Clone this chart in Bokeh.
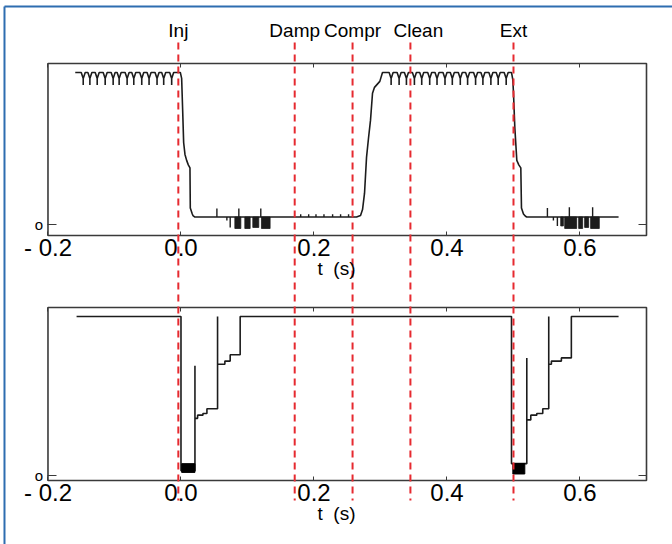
from bokeh.plotting import figure
from bokeh.models import Range1d, LinearAxis, FixedTicker, ColumnDataSource
from bokeh.embed import file_html
from bokeh.resources import INLINE
from bokeh.core.properties import value

# ---------------- data ----------------
event_names = ["Inj", "Damp", "Compr", "Clean", "Ext"]
event_times = [-0.004, 0.171, 0.258, 0.345, 0.500]

x_ticks = [-0.2, 0.0, 0.2, 0.4, 0.6]
x_tick_labels = ["- 0.2", "0.0", "0.2", "0.4", "0.6"]
y_ticks = [0.0]
y_tick_labels = ["o"]
x_axis_title = "t\u00a0\u00a0(s)"

# panel extents (data units)
t_box = [-0.2, 0.7]
top_box = [-0.074, 1.08]
bot_box = [-0.031, 1.057]

# top panel: ripple plateaus (dip times of the ripple)
ripple1_span = [-0.159, -0.001]
ripple1_dips = [-0.147, -0.137, -0.126, -0.114, -0.102, -0.093, -0.081,
                -0.071, -0.059, -0.048, -0.036, -0.026, -0.014]
ripple2_span = [0.303, 0.497]
ripple2_dips = [0.316, 0.328, 0.339, 0.351, 0.362, 0.374, 0.385, 0.397,
                0.408, 0.420, 0.431, 0.443, 0.454, 0.466, 0.477, 0.489]
ripple_hi, ripple_mid, ripple_lo = 1.02, 0.98, 0.935

# top panel: transitions and low level
drop1_t = [0.0, 0.001, 0.0025, 0.004, 0.006, 0.0085, 0.011, 0.0135, 0.014, 0.017, 0.018, 0.021]
drop1_v = [1.0, 0.98, 0.77, 0.55, 0.47, 0.43, 0.40, 0.38, 0.11, 0.07, 0.06, 0.05]
rise_t = [0.264, 0.270, 0.273, 0.276, 0.279, 0.282, 0.285, 0.288, 0.291, 0.295, 0.299, 0.303]
rise_v = [0.05, 0.06, 0.10, 0.21, 0.45, 0.58, 0.70, 0.88, 0.92, 0.94, 0.96, 1.02]
drop2_t = [0.497, 0.499, 0.500, 0.502, 0.505, 0.508, 0.511, 0.512, 0.515, 0.518, 0.520, 0.658]
drop2_v = [1.02, 0.97, 0.88, 0.65, 0.43, 0.40, 0.38, 0.11, 0.07, 0.055, 0.05, 0.05]
low_level = 0.05

spike_t = [0.054, 0.087, 0.120, 0.069, 0.074, 0.180, 0.192, 0.203, 0.215,
           0.228, 0.240, 0.252, 0.551, 0.584, 0.619, 0.560, 0.566]
spike_v = [0.107, 0.107, 0.107, 0.027, -0.02, 0.068, 0.068, 0.068, 0.068,
           0.068, 0.068, 0.068, 0.11, 0.115, 0.115, 0.027, -0.01]

noise_left = [0.081, 0.096, 0.108, 0.121, 0.571, 0.577, 0.598, 0.607, 0.616]
noise_right = [0.090, 0.104, 0.117, 0.134, 0.575, 0.595, 0.604, 0.613, 0.629]
noise_bottom = [-0.027, -0.027, -0.020, -0.027, -0.010, -0.027, -0.027, -0.020, -0.027]

# bottom panel step trace
bot_t = [-0.157, 0.0, 0.0, 0.021, 0.021, 0.021, 0.025, 0.025, 0.033, 0.033,
         0.039, 0.039, 0.055, 0.055, 0.055, 0.066, 0.066, 0.074, 0.074, 0.089,
         0.089, 0.497, 0.497, 0.520, 0.520, 0.520, 0.526, 0.526, 0.535, 0.535,
         0.544, 0.544, 0.553, 0.553, 0.553, 0.557, 0.557, 0.572, 0.572, 0.587,
         0.587, 0.658]
bot_v = [1.0, 1.0, 0.03, 0.03, 0.69, 0.36, 0.36, 0.38, 0.38, 0.39,
         0.39, 0.42, 0.42, 1.0, 0.70, 0.70, 0.72, 0.72, 0.76, 0.76,
         1.0, 1.0, 0.075, 0.075, 0.74, 0.35, 0.35, 0.38, 0.38, 0.39,
         0.39, 0.42, 0.42, 1.0, 0.70, 0.70, 0.72, 0.72, 0.74, 0.74,
         1.0, 1.0]
box_left = [0.001, 0.499]
box_right = [0.021, 0.517]
box_bottom = [0.02, 0.01]
box_top = [0.075, 0.075]

# ---------------- styling / layout constants ----------------
FONT = "Liberation Sans"
TRACE = "#1c1c1c"
FRAME = "#3a3a3a"
RED = "#e62a30"
BLUE = "#2e6db0"
X_VIEW = (-0.2714, 0.7391)          # whole canvas width
TOP_VIEW = (-2.1471, 1.5027)        # whole canvas height in top-panel units
BOT_VIEW = (-0.4335, 2.9878)        # whole canvas height in bottom-panel units
LABEL_Y = 1.300                     # event-name baseline (top units)
DASH_Y = (1.2209, -1.852)           # dashed marker extent (top units)
BORDER_X = -0.2654
BORDER_Y = 1.4624


def ripple(span, dips, w=0.003):
    xs, ys = [span[0]], [ripple_hi]
    for d in dips:
        xs += [d - w, d, d, d, d + w]
        ys += [ripple_hi, ripple_mid, ripple_lo, ripple_mid, ripple_hi]
    xs.append(span[1])
    ys.append(ripple_hi)
    return xs, ys


p = figure(width=672, height=544, output_backend="svg", toolbar_location=None,
           x_range=Range1d(*X_VIEW), y_range=Range1d(*TOP_VIEW),
           x_axis_location=None, y_axis_location=None,
           min_border=0, min_border_left=0, min_border_right=0,
           min_border_top=0, min_border_bottom=0)
p.extra_y_ranges = {"bot": Range1d(*BOT_VIEW)}
p.grid.visible = False
p.outline_line_color = None
p.background_fill_color = "white"
p.border_fill_color = "white"


def add_axes(rng, box):
    kw = dict(y_range_name=rng) if rng != "default" else {}
    below = LinearAxis(fixed_location=box[0], ticker=FixedTicker(ticks=x_ticks),
                       major_label_overrides=dict(zip(x_ticks, x_tick_labels)),
                       major_label_text_font=FONT, major_label_text_font_size="24px",
                       major_label_text_color="black", major_label_standoff=-2,
                       major_tick_in=4, major_tick_out=0, major_tick_line_color=FRAME,
                       minor_tick_line_color=None, axis_line_color=None,
                       axis_label=x_axis_title, axis_label_text_font=FONT,
                       axis_label_text_font_size="19px",
                       axis_label_text_font_style="normal",
                       axis_label_text_color="black", axis_label_standoff=-6, **kw)
    p.add_layout(below, "below")
    above = LinearAxis(fixed_location=box[1], ticker=FixedTicker(ticks=x_ticks),
                       major_label_overrides={t: "" for t in x_ticks},
                       major_tick_in=4, major_tick_out=0, major_tick_line_color=FRAME,
                       minor_tick_line_color=None, axis_line_color=None, **kw)
    p.add_layout(above, "above")
    left = LinearAxis(fixed_location=t_box[0], ticker=FixedTicker(ticks=y_ticks),
                      major_label_overrides=dict(zip(y_ticks, y_tick_labels)),
                      major_label_text_font=FONT, major_label_text_font_size="15px",
                      major_label_text_color="black", major_label_standoff=5,
                      major_tick_in=9, major_tick_out=0, major_tick_line_color=FRAME,
                      minor_tick_line_color=None, axis_line_color=None, **kw)
    p.add_layout(left, "left")
    right = LinearAxis(fixed_location=t_box[1], ticker=FixedTicker(ticks=y_ticks),
                       major_label_overrides={t: "" for t in y_ticks},
                       major_tick_in=8, major_tick_out=0, major_tick_line_color=FRAME,
                       minor_tick_line_color=None, axis_line_color=None, **kw)
    p.add_layout(right, "right")
    p.quad(left=[t_box[0]], right=[t_box[1]], bottom=[box[0]], top=[box[1]],
           fill_color=None, line_color=FRAME, line_width=1.6, **kw)


add_axes("default", top_box)
add_axes("bot", bot_box)

# top panel traces
r1x, r1y = ripple(ripple1_span, ripple1_dips)
r2x, r2y = ripple(ripple2_span, ripple2_dips)
top_t = r1x + drop1_t + rise_t + r2x + drop2_t
top_v = r1y + drop1_v + rise_v + r2y + drop2_v
p.line(top_t, top_v, line_color=TRACE, line_width=1.6)
p.segment(x0=spike_t, y0=[low_level] * len(spike_t), x1=spike_t, y1=spike_v,
          line_color=TRACE, line_width=1.4)
p.quad(left=noise_left, right=noise_right, bottom=noise_bottom,
       top=[low_level] * len(noise_left), fill_color=TRACE, line_color=TRACE,
       line_width=0.8)

# bottom panel traces
p.line(bot_t, bot_v, line_color=TRACE, line_width=1.6, y_range_name="bot")
p.quad(left=box_left, right=box_right, bottom=box_bottom, top=box_top,
       fill_color="black", line_color="black", y_range_name="bot")

# event markers spanning both panels
ev_src = ColumnDataSource(dict(t=event_times, name=event_names, dx=[0, 0, 0, 8, 0]))
p.segment(x0="t", x1="t", y0=DASH_Y[0], y1=DASH_Y[1], source=ev_src,
          line_color=RED, line_width=2, line_dash="7 5")
p.text(x="t", y=LABEL_Y, text="name", x_offset="dx", source=ev_src,
       text_align="center", text_baseline="alphabetic", text_font=value(FONT),
       text_font_size="19px", text_color="black")

# thin blue page frame (left and top)
p.segment(x0=[BORDER_X, BORDER_X], y0=[BORDER_Y, BORDER_Y],
          x1=[BORDER_X, X_VIEW[1]], y1=[TOP_VIEW[0], BORDER_Y],
          line_color=BLUE, line_width=2)

open("out.html", "w").write(file_html(p, INLINE))
